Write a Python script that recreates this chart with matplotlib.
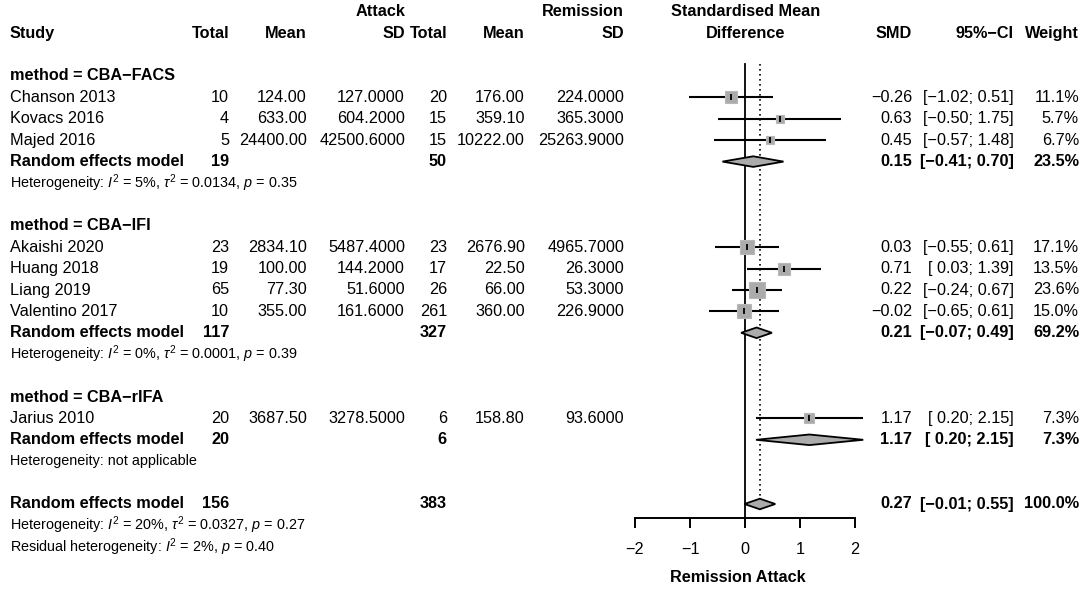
import matplotlib
matplotlib.use("Agg")
import matplotlib.pyplot as plt
import numpy as np
from matplotlib.patches import Polygon

plt.rcParams['font.family'] = ['Liberation Sans', 'DejaVu Sans']
plt.rcParams['mathtext.fontset'] = 'custom'
plt.rcParams['mathtext.rm'] = 'Liberation Sans'
plt.rcParams['mathtext.it'] = 'Liberation Sans:italic'
plt.rcParams['mathtext.bf'] = 'Liberation Sans:bold'

# ---------------- data ----------------
studies = ["Chanson 2013", "Kovacs 2016", "Majed 2016",
           "Akaishi 2020", "Huang 2018", "Liang 2019", "Valentino 2017",
           "Jarius 2010"]
study_group = [0, 0, 0, 1, 1, 1, 1, 2]
n_attack = [10, 4, 5, 23, 19, 65, 10, 20]
mean_attack = [124.00, 633.00, 24400.00, 2834.10, 100.00, 77.30, 355.00, 3687.50]
sd_attack = [127.0000, 604.2000, 42500.6000, 5487.4000, 144.2000, 51.6000, 161.6000, 3278.5000]
n_remission = [20, 15, 15, 23, 17, 26, 261, 6]
mean_remission = [176.00, 359.10, 10222.00, 2676.90, 22.50, 66.00, 360.00, 158.80]
sd_remission = [224.0000, 365.3000, 25263.9000, 4965.7000, 26.3000, 53.3000, 226.9000, 93.6000]
smd = [-0.26, 0.63, 0.45, 0.03, 0.71, 0.22, -0.02, 1.17]
ci_low = [-1.02, -0.50, -0.57, -0.55, 0.03, -0.24, -0.65, 0.20]
ci_high = [0.51, 1.75, 1.48, 0.61, 1.39, 0.67, 0.61, 2.15]
weight = [11.1, 5.7, 6.7, 17.1, 13.5, 23.6, 15.0, 7.3]

groups = ["CBA\u2212FACS", "CBA\u2212IFI", "CBA\u2212rIFA"]
group_n_attack = [19, 117, 20]
group_n_remission = [50, 327, 6]
group_smd = [0.15, 0.21, 1.17]
group_low = [-0.41, -0.07, 0.20]
group_high = [0.70, 0.49, 2.15]
group_weight = [23.5, 69.2, 7.3]
group_i2 = ["5", "0", None]
group_tau2 = ["0.0134", "0.0001", None]
group_p = ["0.35", "0.39", None]

overall_n_attack = 156
overall_n_remission = 383
overall_smd = 0.27
overall_low = -0.01
overall_high = 0.55
overall_weight = 100.0
overall_i2, overall_tau2, overall_p = "20", "0.0327", "0.27"
residual_i2, residual_p = "2", "0.40"

x_ticks = [-2, -1, 0, 1, 2]
x_label = "Remission Attack"

# ---------------- layout ----------------
W, H = 1084, 597
ROW0_PX, ROW_PX = 76.0, 21.4
y_top = -ROW0_PX / ROW_PX
y_bot = (H - ROW0_PX) / ROW_PX

fig = plt.figure(figsize=(W / 100, H / 100), dpi=100)
tax = fig.add_axes([0, 0, 1, 1])
tax.set_xlim(0, W)
tax.set_ylim(y_bot, y_top)
tax.axis('off')

fx0, fx1 = 635.0, 855.0
fax = fig.add_axes([fx0 / W, 0, (fx1 - fx0) / W, 1])
fax.set_xlim(-2, 2)
fax.set_ylim(y_bot, y_top)
fax.patch.set_alpha(0)

FS = 11.7
FSH = 10.4
MINUS = "\u2212"
EQ = " = "
SUP_I2 = r"$\mathit{I}^{2}$"
SUP_T2 = r"$\tau^{2}$"
P_IT = r"$\mathit{p}$"


def het_text(prefix, i2, tau2=None, p=None):
    if i2 is None:
        return prefix + "not applicable"
    s = prefix + SUP_I2 + EQ + f"{i2}%"
    if tau2 is not None:
        s += ", " + SUP_T2 + EQ + tau2
    s += ", " + P_IT + EQ + p
    return s


def fnum(v, d):
    s = f"{v:.{d}f}"
    return s.replace("-", MINUS)


def fci(lo, hi):
    los = fnum(lo, 2) if lo < 0 else " " + f"{lo:.2f}"
    his = fnum(hi, 2) if hi < 0 else f"{hi:.2f}"
    return f"[{los}; {his}]"


col_study = 10
col_n1, col_m1, col_s1 = 229, 307, 405
col_n2, col_m2, col_s2 = 447, 525, 624
col_mid = 746
col_smd, col_ci, col_w = 912, 1014, 1079


def txt(x, y, s, ha='right', bold=False, size=FS):
    tax.text(x, y, s, ha=ha, va='center', fontsize=size,
             fontweight='bold' if bold else 'normal')


# headers
txt(col_s1, -3, "Attack", bold=True)
txt(col_s2, -3, "Remission", bold=True)
txt(col_mid, -3, "Standardised Mean", ha='center', bold=True)
txt(col_study, -2, "Study", ha='left', bold=True)
for x, s in [(col_n1, "Total"), (col_m1, "Mean"), (col_s1, "SD"),
             (col_n2, "Total"), (col_m2, "Mean"), (col_s2, "SD"),
             (col_smd, "SMD"), (col_ci, "95%\u2212CI"), (col_w, "Weight")]:
    txt(x, -2, s, bold=True)
txt(col_mid, -2, "Difference", ha='center', bold=True)

GRAY = "#ABABAB"
PX_PER_PT = 100 / 72.0
DIAM_HALF = 5.3 / ROW_PX


def diamond(y, est, lo, hi):
    poly = Polygon([[lo, y], [est, y - DIAM_HALF], [hi, y], [est, y + DIAM_HALF]],
                   closed=True, facecolor=GRAY, edgecolor='black', linewidth=1.3,
                   clip_on=False, zorder=4)
    fax.add_patch(poly)


row = 0
for g, gname in enumerate(groups):
    txt(col_study, row, f"method = {gname}", ha='left', bold=True)
    row += 1
    for i in [k for k in range(len(studies)) if study_group[k] == g]:
        txt(col_study, row, studies[i], ha='left')
        txt(col_n1, row, str(n_attack[i]))
        txt(col_m1, row, fnum(mean_attack[i], 2))
        txt(col_s1, row, fnum(sd_attack[i], 4))
        txt(col_n2, row, str(n_remission[i]))
        txt(col_m2, row, fnum(mean_remission[i], 2))
        txt(col_s2, row, fnum(sd_remission[i], 4))
        txt(col_smd, row, fnum(smd[i], 2))
        txt(col_ci, row, fci(ci_low[i], ci_high[i]))
        txt(col_w, row, f"{weight[i]:.1f}%")
        fax.plot([ci_low[i], ci_high[i]], [row, row], color='black', lw=1.5,
                 clip_on=False, zorder=2, solid_capstyle='butt')
        side_pt = 3.45 * np.sqrt(weight[i]) / PX_PER_PT
        fax.plot([smd[i]], [row], marker='s', markersize=side_pt,
                 markerfacecolor=GRAY, markeredgecolor="#B8B8B8",
                 markeredgewidth=0.8, linestyle='none', zorder=3, clip_on=False)
        fax.plot([smd[i]], [row], marker='|', markersize=5, color='black',
                 markeredgewidth=1.3, linestyle='none', zorder=4, clip_on=False)
        row += 1
    txt(col_study, row, "Random effects model", ha='left', bold=True)
    txt(col_n1, row, str(group_n_attack[g]), bold=True)
    txt(col_n2, row, str(group_n_remission[g]), bold=True)
    txt(col_smd, row, fnum(group_smd[g], 2), bold=True)
    txt(col_ci, row, fci(group_low[g], group_high[g]), bold=True)
    txt(col_w, row, f"{group_weight[g]:.1f}%", bold=True)
    diamond(row, group_smd[g], group_low[g], group_high[g])
    row += 1
    txt(col_study, row, het_text("Heterogeneity: ", group_i2[g], group_tau2[g], group_p[g]),
        ha='left', size=FSH)
    row += 2

txt(col_study, row, "Random effects model", ha='left', bold=True)
txt(col_n1, row, str(overall_n_attack), bold=True)
txt(col_n2, row, str(overall_n_remission), bold=True)
txt(col_smd, row, fnum(overall_smd, 2), bold=True)
txt(col_ci, row, fci(overall_low, overall_high), bold=True)
txt(col_w, row, f"{overall_weight:.1f}%", bold=True)
diamond(row, overall_smd, overall_low, overall_high)
overall_row = row
txt(col_study, row + 1, het_text("Heterogeneity: ", overall_i2, overall_tau2, overall_p),
    ha='left', size=FSH)
txt(col_study, row + 2, het_text("Residual heterogeneity: ", residual_i2, None, residual_p),
    ha='left', size=FSH)

# reference lines
line_top = (64 - ROW0_PX) / ROW_PX
axis_row = (518 - ROW0_PX) / ROW_PX
fax.plot([0, 0], [line_top, axis_row], color='black', lw=1.3, zorder=1)
fax.plot([overall_smd, overall_smd], [line_top, overall_row - DIAM_HALF],
         color='black', lw=1.2, linestyle=(0, (1, 2)), zorder=1)

# axis
for s in ['top', 'left', 'right']:
    fax.spines[s].set_visible(False)
fax.spines['bottom'].set_position(('data', axis_row))
fax.spines['bottom'].set_bounds(-2, 2)
fax.spines['bottom'].set_linewidth(1.4)
fax.set_yticks([])
fax.set_xticks(x_ticks)
fax.set_xticklabels([fnum(t, 0) for t in x_ticks], fontsize=FS)
fax.tick_params(axis='x', direction='out', length=7.5, width=1.4, pad=10)
txt(738, (578 - ROW0_PX) / ROW_PX, x_label, ha='center', bold=True)

fig.savefig("out.png", dpi=100)
